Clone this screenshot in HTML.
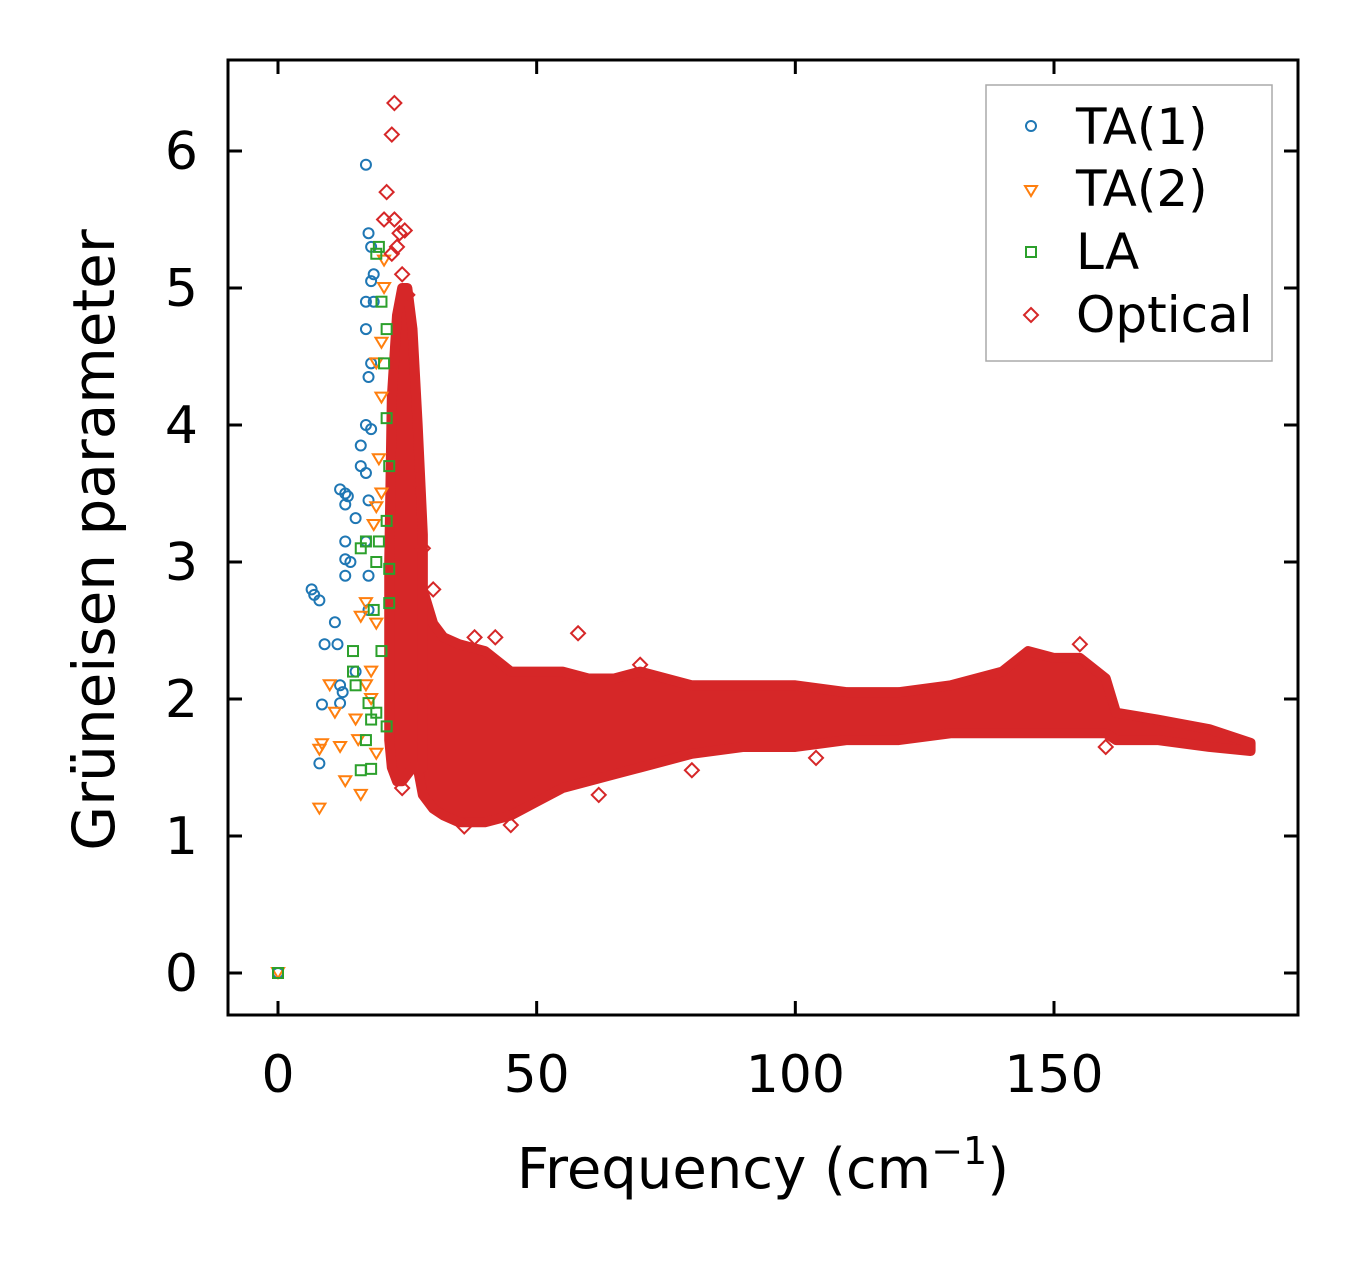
<!DOCTYPE html>
<html><head><meta charset="utf-8"><style>
html,body{margin:0;padding:0;background:#fff;}
svg{display:block;font-family:"DejaVu Sans","Liberation Sans",sans-serif;}
</style></head><body>
<svg id="chart" width="1357" height="1264" viewBox="0 0 1357 1264" xmlns="http://www.w3.org/2000/svg">
<rect x="0" y="0" width="1357" height="1264" fill="#fff"/>
<g id="marks"></g>
<g id="axes"></g>
<text x="763" y="1188" font-size="56" text-anchor="middle">Frequency (cm<tspan font-size="38" dy="-24">−1</tspan><tspan dy="24">)</tspan></text>
<text transform="translate(114,540) rotate(-90)" font-size="58" text-anchor="middle">Grüneisen parameter</text>
<g>
<rect x="986" y="85" width="286" height="276" fill="#fff" stroke="#aaa" stroke-width="1.5"/>
<circle cx="1031" cy="126" r="5" fill="none" stroke="#1f77b4" stroke-width="2"/>
<text x="1076" y="144" font-size="50">TA(1)</text>
<path d="M1025,186 L1037,186 L1031,196 Z" fill="none" stroke="#ff7f0e" stroke-width="2"/>
<text x="1076" y="206" font-size="50">TA(2)</text>
<rect x="1026" y="247" width="10" height="10" fill="none" stroke="#2ca02c" stroke-width="2"/>
<text x="1076" y="269" font-size="50">LA</text>
<path d="M1031,308 L1038,315 L1031,322 L1024,315 Z" fill="none" stroke="#d62728" stroke-width="2"/>
<text x="1076" y="332" font-size="50">Optical</text>
</g>
</svg>
<script>
const xTicks=[0,50,100,150];
const yTicks=[0,1,2,3,4,5,6];
const bandFreq=[27,28,30,32,35,40,45,50,55,60,65,70,80,90,100,110,120,130,140,145,150,155,160,162,170,180,188];
const bandLo=[1.5,1.3,1.2,1.15,1.1,1.1,1.15,1.25,1.35,1.4,1.45,1.5,1.6,1.65,1.65,1.7,1.7,1.75,1.75,1.75,1.75,1.75,1.75,1.7,1.7,1.65,1.62];
const bandHi=[3.2,2.8,2.55,2.45,2.4,2.35,2.2,2.2,2.2,2.15,2.15,2.2,2.1,2.1,2.1,2.05,2.05,2.1,2.2,2.35,2.3,2.3,2.15,1.9,1.85,1.78,1.68];
const spikeFreq=[21.5,22,23,24,25,26,27,28];
const spikeLo=[1.7,1.5,1.4,1.4,1.45,1.5,1.5,1.5];
const spikeHi=[3.0,4.2,4.8,5.0,5.0,4.7,4.0,3.2];
const opticalX=[22.5,22,21,20.5,22.5,23.5,23,24,58,30,80,104,160,36,45,24,155,70,42,38,62,24.5,22,25,26.5,28];
const opticalY=[6.35,6.12,5.7,5.5,5.5,5.4,5.3,5.1,2.48,2.8,1.48,1.57,1.65,1.07,1.08,1.35,2.4,2.25,2.45,2.45,1.3,5.42,5.25,4.95,3.6,3.1];
const ta1X=[0,17,17.5,18,18.5,18,17,18.5,17,18,17.5,17,18,16,17,16,17.5,12,13,13.5,13,15,17,13,13,14,13,17.5,6.5,7,8,17.5,11,9,11.5,12,12.5,12,8.5,8,15];
const ta1Y=[0,5.9,5.4,5.3,5.1,5.05,4.9,4.9,4.7,4.45,4.35,4.0,3.97,3.85,3.65,3.7,3.45,3.53,3.5,3.48,3.42,3.32,3.15,3.15,3.02,3.0,2.9,2.9,2.8,2.76,2.72,2.65,2.56,2.4,2.4,2.1,2.05,1.97,1.96,1.53,2.2];
const ta2X=[0,8,8.5,8,10,11,12,13,16,15,15.5,17,18,19,17,19,16,19,20,19.5,20,19,20,20.5,20.5,18.5,18];
const ta2Y=[0,1.2,1.67,1.63,2.1,1.9,1.65,1.4,1.3,1.85,1.7,2.1,2.0,1.6,2.7,2.55,2.6,3.4,3.5,3.75,4.2,4.45,4.6,5.0,5.2,3.27,2.2];
const laX=[0,19.5,19,20,21,20.5,21,21.5,21,19.5,16,17,21.5,19,21.5,18.5,20,14.5,14.5,15,17.5,19,18,21,16,18,17];
const laY=[0,5.3,5.25,4.9,4.7,4.45,4.05,3.7,3.3,3.15,3.1,3.15,2.95,3.0,2.7,2.65,2.35,2.35,2.2,2.1,1.97,1.9,1.85,1.8,1.48,1.49,1.7];

const L=228,R=1298,T=60,B=1015;
const sx=v=>278+v*(1054-278)/150;
const sy=v=>973-v*(973-699)/2;
const NS="http://www.w3.org/2000/svg";
const marks=document.getElementById('marks');
const axes=document.getElementById('axes');
function mk(tag,attrs,parent){const e=document.createElementNS(NS,tag);for(const k in attrs)e.setAttribute(k,attrs[k]);parent.appendChild(e);return e;}

function band(fx,lo,hi,name){
  let pts=[];
  for(let i=0;i<fx.length;i++)pts.push(sx(fx[i])+','+sy(hi[i]));
  for(let i=fx.length-1;i>=0;i--)pts.push(sx(fx[i])+','+sy(lo[i]));
  const p=mk('polygon',{points:pts.join(' '),fill:'#d62728',stroke:'#d62728','stroke-width':10,'stroke-linejoin':'round'},marks);
  
  
}
band(bandFreq,bandLo,bandHi,'optical-dense-band');
band(spikeFreq,spikeLo,spikeHi,'optical-spike-band');

for(let i=0;i<ta1X.length;i++){
  const c=mk('circle',{cx:sx(ta1X[i]),cy:sy(ta1Y[i]),r:5,fill:'none',stroke:'#1f77b4','stroke-width':2},marks);
  
  
}
for(let i=0;i<ta2X.length;i++){
  const x=sx(ta2X[i]),y=sy(ta2Y[i]);
  const c=mk('path',{d:`M${x-6},${y-5} L${x+6},${y-5} L${x},${y+5} Z`,fill:'none',stroke:'#ff7f0e','stroke-width':2},marks);
  
  
}
for(let i=0;i<laX.length;i++){
  const c=mk('rect',{x:sx(laX[i])-5,y:sy(laY[i])-5,width:10,height:10,fill:'none',stroke:'#2ca02c','stroke-width':2},marks);
  
  
}
for(let i=0;i<opticalX.length;i++){
  const x=sx(opticalX[i]),y=sy(opticalY[i]);
  const c=mk('path',{d:`M${x},${y-7} L${x+7},${y} L${x},${y+7} L${x-7},${y} Z`,fill:'none',stroke:'#d62728','stroke-width':2},marks);
  
  
}

const frame=mk('rect',{x:L,y:T,width:R-L,height:B-T,fill:'none',stroke:'#000','stroke-width':3},axes);


xTicks.forEach(v=>{
  const x=sx(v);
  const t1=mk('line',{x1:x,y1:B,x2:x,y2:B-14,stroke:'#000','stroke-width':3},axes);
  
  
  const t2=mk('line',{x1:x,y1:T,x2:x,y2:T+14,stroke:'#000','stroke-width':3},axes);
  
  
  const lb=mk('text',{x:x,y:1092,'font-size':52,'text-anchor':'middle'},axes);
  lb.textContent=v;
  
  
});
yTicks.forEach(v=>{
  const y=sy(v);
  const t1=mk('line',{x1:L,y1:y,x2:L+14,y2:y,stroke:'#000','stroke-width':3},axes);
  
  
  const t2=mk('line',{x1:R,y1:y,x2:R-14,y2:y,stroke:'#000','stroke-width':3},axes);
  
  
  const lb=mk('text',{x:198,y:y+18,'font-size':52,'text-anchor':'end'},axes);
  lb.textContent=v;
  
  
});
</script>
</body></html>
